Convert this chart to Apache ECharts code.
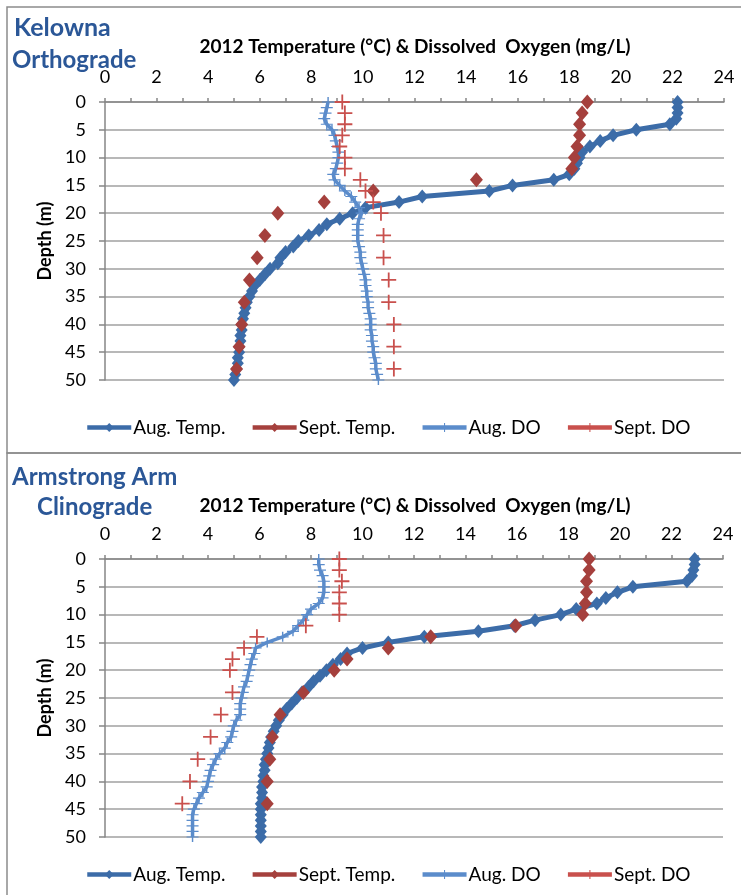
<!DOCTYPE html>
<html>
<head>
<meta charset="utf-8">
<script src="https://cdn.jsdelivr.net/npm/echarts@6/dist/echarts.min.js"></script>
<style>
  html, body { margin: 0; padding: 0; background: #fff; }
  #main { width: 741px; height: 895px; }
</style>
</head>
<body>
<div id="main"></div>
<script>
var myChart = echarts.init(document.getElementById('main'));

// depths (m)
var augDepth = [0, 1, 2, 3, 4, 5, 6, 7, 8, 9, 10, 11, 12, 13, 14, 15, 16, 17, 18, 19, 20,
  21, 22, 23, 24, 25, 26, 27, 28, 29, 30, 31, 32, 33, 34, 35, 36, 37, 38, 39, 40,
  41, 42, 43, 44, 45, 46, 47, 48, 49, 50];
var septDepthK = [0, 2, 4, 6, 8, 10, 12, 14, 16, 18, 20, 24, 28, 32, 36, 40, 44, 48];
var septDepthA = [0, 2, 4, 6, 8, 10, 12, 14, 16, 18, 20, 24, 28, 32, 36, 40, 44];

// Kelowna
var kAugTemp = [22.2, 22.2, 22.2, 22.15, 21.9, 20.6, 19.7, 19.2, 18.8, 18.5, 18.4, 18.3, 18.2, 18.0, 17.4,
  15.8, 14.9, 12.3, 11.4, 10.1, 9.6, 9.1, 8.6, 8.3, 7.9, 7.5, 7.3, 7.0, 6.8, 6.7, 6.4, 6.2, 6.0, 5.8,
  5.7, 5.6, 5.5, 5.45, 5.4, 5.35, 5.3, 5.3, 5.25, 5.25, 5.2, 5.2, 5.15, 5.15, 5.1, 5.05, 5.0];
var kSeptTemp = [18.7, 18.5, 18.4, 18.4, 18.3, 18.2, 18.1, 14.4, 10.4, 8.5, 6.7, 6.2, 5.9, 5.6, 5.4, 5.3, 5.2, 5.1];
var kAugDO = [8.65, 8.6, 8.55, 8.5, 8.6, 8.8, 8.9, 8.95, 9.0, 9.05, 9.05, 9.0, 8.95, 8.85, 8.9, 9.1, 9.3,
  9.55, 9.7, 9.85, 9.95, 9.85, 9.8, 9.8, 9.8, 9.8, 9.85, 9.9, 9.9, 9.95, 10.0, 10.05, 10.1, 10.1, 10.15,
  10.15, 10.2, 10.2, 10.25, 10.3, 10.3, 10.3, 10.35, 10.35, 10.4, 10.4, 10.45, 10.5, 10.5, 10.55, 10.6];
var kSeptDO = [9.2, 9.3, 9.3, 9.2, 9.1, 9.3, 9.3, 9.9, 10.1, 10.4, 10.7, 10.8, 10.8, 11.0, 11.0, 11.2, 11.2, 11.2];

// Armstrong Arm
var aAugTemp = [22.9, 22.9, 22.85, 22.8, 22.6, 20.5, 19.9, 19.45, 19.1, 18.3, 17.7, 16.7, 15.9, 14.5, 12.4,
  11.0, 10.0, 9.4, 9.15, 8.85, 8.6, 8.35, 8.1, 7.9, 7.65, 7.45, 7.25, 7.05, 6.9, 6.75, 6.65, 6.55, 6.45,
  6.4, 6.35, 6.3, 6.25, 6.2, 6.2, 6.15, 6.15, 6.1, 6.1, 6.1, 6.05, 6.05, 6.05, 6.05, 6.05, 6.05, 6.05];
var aSeptTemp = [18.8, 18.8, 18.7, 18.7, 18.65, 18.55, 15.95, 12.65, 11.0, 9.4, 8.9, 7.7, 6.8, 6.5, 6.4, 6.3, 6.3];
var aAugDO = [8.3, 8.3, 8.35, 8.45, 8.5, 8.5, 8.5, 8.45, 8.3, 8.0, 7.85, 7.7, 7.5, 7.3, 6.9, 6.3, 5.85,
  5.8, 5.7, 5.65, 5.6, 5.55, 5.5, 5.4, 5.35, 5.3, 5.25, 5.25, 5.25, 5.1, 5.0, 4.95, 4.9, 4.75, 4.65, 4.45,
  4.3, 4.2, 4.1, 4.05, 4.0, 3.95, 3.8, 3.65, 3.55, 3.45, 3.4, 3.4, 3.4, 3.4, 3.4];
var aSeptDO = [9.1, 9.1, 9.2, 9.1, 9.1, 9.1, 7.8, 5.9, 5.4, 4.95, 4.85, 4.95, 4.5, 4.1, 3.6, 3.3, 3.0];

var names = ['Aug. Temp.', 'Sept. Temp.', 'Aug. DO', 'Sept. DO'];
var titleText = '2012 Temperature (\u00B0C) & Dissolved  Oxygen (mg/L)';

var FONT = "Lato, 'Open Sans', sans-serif";
var cAugT = '#3c6ca8', cSeptT = '#a5403d', cAugDO = '#5b8ccb', cSeptDO = '#c9504d';
var PLUS = 'path://M0,4.4H10V5.6H0Z M4.4,0H5.6V10H4.4Z';

function pairs(vals, depths) {
  return vals.map(function (v, i) { return [v, depths[i]]; });
}

function xAx(idx) {
  return {
    gridIndex: idx, type: 'value', position: 'top', min: 0, max: 24, interval: 2,
    axisLine: { show: true, lineStyle: { color: '#868686', width: 1.5 } },
    axisTick: { show: true, length: 4, lineStyle: { color: '#868686', width: 1.5 } },
    minorTick: { show: true, splitNumber: 2, length: 4, lineStyle: { color: '#868686', width: 1.5 } },
    splitLine: { show: false },
    axisLabel: { margin: 16, fontSize: 18, color: '#000', fontFamily: FONT }
  };
}
function yAx(idx) {
  return {
    gridIndex: idx, type: 'value', inverse: true, min: 0, max: 50, interval: 5,
    name: 'Depth (m)', nameLocation: 'middle', nameGap: 48, nameRotate: 90,
    nameTextStyle: { fontSize: 18, fontWeight: 'bold', color: '#000', fontFamily: FONT },
    axisLine: { show: true, lineStyle: { color: '#868686', width: 1.5 } },
    axisTick: { show: true, length: 6, lineStyle: { color: '#868686', width: 1.5 } },
    splitLine: { show: true, lineStyle: { color: '#a0a0a0', width: 1.5 } },
    axisLabel: { margin: 19, fontSize: 18, color: '#000', fontFamily: FONT }
  };
}

function seriesSet(idx, augT, septT, augDO, septDO, septDepth) {
  return [{
    name: names[0], type: 'line', xAxisIndex: idx, yAxisIndex: idx,
    data: pairs(augT, augDepth), symbol: 'diamond', symbolSize: [12, 14],
    lineStyle: { color: cAugT, width: 5 }, itemStyle: { color: cAugT }
  }, {
    name: names[1], type: 'line', xAxisIndex: idx, yAxisIndex: idx,
    data: pairs(septT, septDepth), symbol: 'diamond', symbolSize: [13, 15],
    lineStyle: { width: 0, opacity: 0 }, itemStyle: { color: cSeptT }
  }, {
    name: names[2], type: 'line', xAxisIndex: idx, yAxisIndex: idx,
    data: pairs(augDO, augDepth), symbol: PLUS, symbolSize: [12, 10],
    lineStyle: { color: cAugDO, width: 3.5 }, itemStyle: { color: cAugDO }
  }, {
    name: names[3], type: 'line', xAxisIndex: idx, yAxisIndex: idx,
    data: pairs(septDO, septDepth), symbol: PLUS, symbolSize: [15, 15],
    lineStyle: { width: 0, opacity: 0 }, itemStyle: { color: cSeptDO }
  }];
}

function legendAt(top) {
  return {
    top: top, left: 80, itemWidth: 44, itemHeight: 11, itemGap: 25,
    textStyle: { fontSize: 19, color: '#000', fontFamily: FONT, padding: [0, 0, 0, -3] },
    data: [
      { name: names[0], lineStyle: { color: cAugT, width: 4.5 } },
      { name: names[1], lineStyle: { color: cSeptT, width: 4.5, opacity: 1 } },
      { name: names[2], lineStyle: { color: cAugDO, width: 4.5 }, itemStyle: { color: cAugDO } },
      { name: names[3], lineStyle: { color: cSeptDO, width: 4.5, opacity: 1 } }
    ]
  };
}

function label(text, x, y, size, color, align) {
  return {
    type: 'text', x: x, y: y,
    style: { text: text, font: 'bold ' + size + 'px ' + FONT, fill: color, align: align || 'left', verticalAlign: 'middle' }
  };
}

var option = {
  backgroundColor: '#fff',
  animation: false,
  graphic: [
    { type: 'rect', shape: { x: 7, y: 7, width: 760, height: 446 }, style: { fill: 'none', stroke: '#8c8c8c', lineWidth: 1.5 } },
    { type: 'rect', shape: { x: 7, y: 453, width: 760, height: 460 }, style: { fill: 'none', stroke: '#8c8c8c', lineWidth: 1.5 } },
    label('Kelowna', 14, 28, 25, '#2b5797'),
    label('Orthograde', 12, 60, 24, '#2b5797'),
    label(titleText, 415, 47, 19, '#000', 'center'),
    label('Armstrong Arm', 12, 477, 24, '#2b5797'),
    label('Clinograde', 37, 507, 24, '#2b5797'),
    label(titleText, 415, 506, 19, '#000', 'center')
  ],
  legend: [legendAt(413), legendAt(860)],
  grid: [
    { left: 105, right: 17, top: 102, height: 278 },
    { left: 105, right: 18, top: 559, height: 278 }
  ],
  xAxis: [xAx(0), xAx(1)],
  yAxis: [yAx(0), yAx(1)],
  series: seriesSet(0, kAugTemp, kSeptTemp, kAugDO, kSeptDO, septDepthK)
    .concat(seriesSet(1, aAugTemp, aSeptTemp, aAugDO, aSeptDO, septDepthA))
};

myChart.setOption(option);
</script>
</body>
</html>
